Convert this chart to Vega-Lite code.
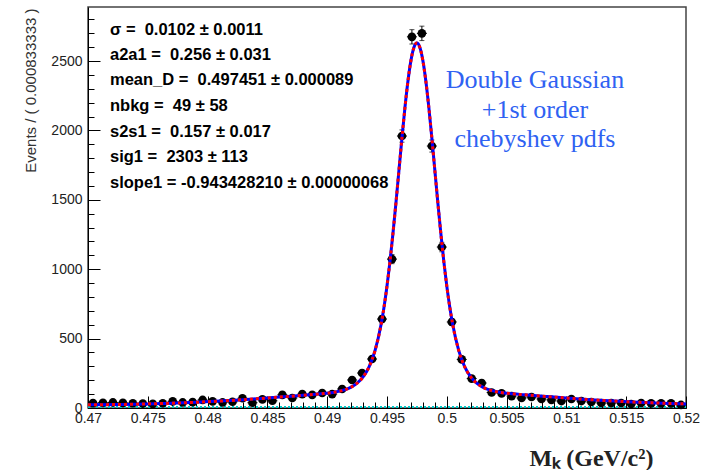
{
  "$schema": "https://vega.github.io/schema/vega-lite/v6.json",
  "width": 598,
  "height": 401,
  "autosize": "none",
  "padding": {"left": 88, "top": 7, "right": 21, "bottom": 62},
  "background": "white",
  "config": {"view": {"stroke": "#444", "strokeWidth": 1.5}, "font": "Liberation Sans"},
  "datasets": {
    "bins": [
      {"x": 0.470417, "n": 35, "lo": 29.1, "hi": 40.9, "xl": 0.470000, "xh": 0.470833},
      {"x": 0.471250, "n": 38, "lo": 31.8, "hi": 44.2, "xl": 0.470833, "xh": 0.471667},
      {"x": 0.472083, "n": 40, "lo": 33.7, "hi": 46.3, "xl": 0.471667, "xh": 0.472500},
      {"x": 0.472917, "n": 37, "lo": 30.9, "hi": 43.1, "xl": 0.472500, "xh": 0.473333},
      {"x": 0.473750, "n": 34, "lo": 28.2, "hi": 39.8, "xl": 0.473333, "xh": 0.474167},
      {"x": 0.474583, "n": 32, "lo": 26.3, "hi": 37.7, "xl": 0.474167, "xh": 0.475000},
      {"x": 0.475417, "n": 30, "lo": 24.5, "hi": 35.5, "xl": 0.475000, "xh": 0.475833},
      {"x": 0.476250, "n": 34, "lo": 28.2, "hi": 39.8, "xl": 0.475833, "xh": 0.476667},
      {"x": 0.477083, "n": 48, "lo": 41.1, "hi": 54.9, "xl": 0.476667, "xh": 0.477500},
      {"x": 0.477917, "n": 40, "lo": 33.7, "hi": 46.3, "xl": 0.477500, "xh": 0.478333},
      {"x": 0.478750, "n": 42, "lo": 35.5, "hi": 48.5, "xl": 0.478333, "xh": 0.479167},
      {"x": 0.479583, "n": 58, "lo": 50.4, "hi": 65.6, "xl": 0.479167, "xh": 0.480000},
      {"x": 0.480417, "n": 48, "lo": 41.1, "hi": 54.9, "xl": 0.480000, "xh": 0.480833},
      {"x": 0.481250, "n": 40, "lo": 33.7, "hi": 46.3, "xl": 0.480833, "xh": 0.481667},
      {"x": 0.482083, "n": 45, "lo": 38.3, "hi": 51.7, "xl": 0.481667, "xh": 0.482500},
      {"x": 0.482917, "n": 70, "lo": 61.6, "hi": 78.4, "xl": 0.482500, "xh": 0.483333},
      {"x": 0.483750, "n": 38, "lo": 31.8, "hi": 44.2, "xl": 0.483333, "xh": 0.484167},
      {"x": 0.484583, "n": 62, "lo": 54.1, "hi": 69.9, "xl": 0.484167, "xh": 0.485000},
      {"x": 0.485417, "n": 52, "lo": 44.8, "hi": 59.2, "xl": 0.485000, "xh": 0.485833},
      {"x": 0.486250, "n": 95, "lo": 85.3, "hi": 104.7, "xl": 0.485833, "xh": 0.486667},
      {"x": 0.487083, "n": 72, "lo": 63.5, "hi": 80.5, "xl": 0.486667, "xh": 0.487500},
      {"x": 0.487917, "n": 100, "lo": 90, "hi": 110, "xl": 0.487500, "xh": 0.488333},
      {"x": 0.488750, "n": 95, "lo": 85.3, "hi": 104.7, "xl": 0.488333, "xh": 0.489167},
      {"x": 0.489583, "n": 108, "lo": 97.6, "hi": 118.4, "xl": 0.489167, "xh": 0.490000},
      {"x": 0.490417, "n": 100, "lo": 90, "hi": 110, "xl": 0.490000, "xh": 0.490833},
      {"x": 0.491250, "n": 137, "lo": 125.3, "hi": 148.7, "xl": 0.490833, "xh": 0.491667},
      {"x": 0.492083, "n": 202, "lo": 187.8, "hi": 216.2, "xl": 0.491667, "xh": 0.492500},
      {"x": 0.492917, "n": 252, "lo": 236.1, "hi": 267.9, "xl": 0.492500, "xh": 0.493333},
      {"x": 0.493750, "n": 353, "lo": 334.2, "hi": 371.8, "xl": 0.493333, "xh": 0.494167},
      {"x": 0.494583, "n": 641, "lo": 615.7, "hi": 666.3, "xl": 0.494167, "xh": 0.495000},
      {"x": 0.495417, "n": 1073, "lo": 1040.2, "hi": 1105.8, "xl": 0.495000, "xh": 0.495833},
      {"x": 0.496250, "n": 1960, "lo": 1915.7, "hi": 2004.3, "xl": 0.495833, "xh": 0.496667},
      {"x": 0.497083, "n": 2675, "lo": 2623.3, "hi": 2726.7, "xl": 0.496667, "xh": 0.497500},
      {"x": 0.497917, "n": 2700, "lo": 2648, "hi": 2752, "xl": 0.497500, "xh": 0.498333},
      {"x": 0.498750, "n": 1888, "lo": 1844.5, "hi": 1931.5, "xl": 0.498333, "xh": 0.499167},
      {"x": 0.499583, "n": 1160, "lo": 1125.9, "hi": 1194.1, "xl": 0.499167, "xh": 0.500000},
      {"x": 0.500417, "n": 620, "lo": 595.1, "hi": 644.9, "xl": 0.500000, "xh": 0.500833},
      {"x": 0.501250, "n": 350, "lo": 331.3, "hi": 368.7, "xl": 0.500833, "xh": 0.501667},
      {"x": 0.502083, "n": 212, "lo": 197.4, "hi": 226.6, "xl": 0.501667, "xh": 0.502500},
      {"x": 0.502917, "n": 180, "lo": 166.6, "hi": 193.4, "xl": 0.502500, "xh": 0.503333},
      {"x": 0.503750, "n": 112, "lo": 101.4, "hi": 122.6, "xl": 0.503333, "xh": 0.504167},
      {"x": 0.504583, "n": 105, "lo": 94.8, "hi": 115.2, "xl": 0.504167, "xh": 0.505000},
      {"x": 0.505417, "n": 86, "lo": 76.7, "hi": 95.3, "xl": 0.505000, "xh": 0.505833},
      {"x": 0.506250, "n": 72, "lo": 63.5, "hi": 80.5, "xl": 0.505833, "xh": 0.506667},
      {"x": 0.507083, "n": 79, "lo": 70.1, "hi": 87.9, "xl": 0.506667, "xh": 0.507500},
      {"x": 0.507917, "n": 65, "lo": 56.9, "hi": 73.1, "xl": 0.507500, "xh": 0.508333},
      {"x": 0.508750, "n": 58, "lo": 50.4, "hi": 65.6, "xl": 0.508333, "xh": 0.509167},
      {"x": 0.509583, "n": 50, "lo": 42.9, "hi": 57.1, "xl": 0.509167, "xh": 0.510000},
      {"x": 0.510417, "n": 65, "lo": 56.9, "hi": 73.1, "xl": 0.510000, "xh": 0.510833},
      {"x": 0.511250, "n": 50, "lo": 42.9, "hi": 57.1, "xl": 0.510833, "xh": 0.511667},
      {"x": 0.512083, "n": 43, "lo": 36.4, "hi": 49.6, "xl": 0.511667, "xh": 0.512500},
      {"x": 0.512917, "n": 36, "lo": 30, "hi": 42, "xl": 0.512500, "xh": 0.513333},
      {"x": 0.513750, "n": 36, "lo": 30, "hi": 42, "xl": 0.513333, "xh": 0.514167},
      {"x": 0.514583, "n": 36, "lo": 30, "hi": 42, "xl": 0.514167, "xh": 0.515000},
      {"x": 0.515417, "n": 29, "lo": 23.6, "hi": 34.4, "xl": 0.515000, "xh": 0.515833},
      {"x": 0.516250, "n": 36, "lo": 30, "hi": 42, "xl": 0.515833, "xh": 0.516667},
      {"x": 0.517083, "n": 33, "lo": 27.3, "hi": 38.7, "xl": 0.516667, "xh": 0.517500},
      {"x": 0.517917, "n": 33, "lo": 27.3, "hi": 38.7, "xl": 0.517500, "xh": 0.518333},
      {"x": 0.518750, "n": 33, "lo": 27.3, "hi": 38.7, "xl": 0.518333, "xh": 0.519167},
      {"x": 0.519583, "n": 22, "lo": 17.3, "hi": 26.7, "xl": 0.519167, "xh": 0.520000}
    ],
    "curve": [
      {"x": 0.4700, "f": 22.9}, {"x": 0.4730, "f": 26.1}, {"x": 0.4750, "f": 29.7}, {"x": 0.4770, "f": 34.6},
      {"x": 0.4790, "f": 41.2}, {"x": 0.4810, "f": 49.7}, {"x": 0.4830, "f": 60.1}, {"x": 0.4850, "f": 72.0},
      {"x": 0.4870, "f": 85.0}, {"x": 0.4885, "f": 94.8}, {"x": 0.4895, "f": 102.1}, {"x": 0.4905, "f": 112.2},
      {"x": 0.4915, "f": 131.8}, {"x": 0.4920, "f": 150.0}, {"x": 0.4925, "f": 178.6}, {"x": 0.4930, "f": 223.6},
      {"x": 0.4935, "f": 296.2}, {"x": 0.4940, "f": 413.6}, {"x": 0.4945, "f": 599.6}, {"x": 0.49475, "f": 726.5},
      {"x": 0.4950, "f": 878.8}, {"x": 0.49525, "f": 1057.2}, {"x": 0.4955, "f": 1259.3}, {"x": 0.49575, "f": 1480.7},
      {"x": 0.4960, "f": 1713.4}, {"x": 0.49625, "f": 1946.0}, {"x": 0.4965, "f": 2164.7}, {"x": 0.49675, "f": 2355.2},
      {"x": 0.4970, "f": 2503.5}, {"x": 0.49725, "f": 2597.7}, {"x": 0.4975, "f": 2630.0}, {"x": 0.49775, "f": 2597.7},
      {"x": 0.4980, "f": 2503.5}, {"x": 0.49825, "f": 2355.2}, {"x": 0.4985, "f": 2164.7}, {"x": 0.49875, "f": 1946.0},
      {"x": 0.4990, "f": 1713.4}, {"x": 0.49925, "f": 1480.7}, {"x": 0.4995, "f": 1259.3}, {"x": 0.49975, "f": 1057.2},
      {"x": 0.5000, "f": 878.8}, {"x": 0.50025, "f": 726.5}, {"x": 0.5005, "f": 599.6}, {"x": 0.5010, "f": 413.6},
      {"x": 0.5015, "f": 296.2}, {"x": 0.5020, "f": 223.6}, {"x": 0.5025, "f": 178.6}, {"x": 0.5030, "f": 150.0},
      {"x": 0.5035, "f": 131.8}, {"x": 0.5045, "f": 112.2}, {"x": 0.5055, "f": 102.1}, {"x": 0.5065, "f": 94.8},
      {"x": 0.5080, "f": 85.0}, {"x": 0.5100, "f": 72.0}, {"x": 0.5120, "f": 60.1}, {"x": 0.5140, "f": 49.7},
      {"x": 0.5160, "f": 41.2}, {"x": 0.5180, "f": 34.6}, {"x": 0.5200, "f": 29.7}
    ],
    "bkg": [{"x": 0.47, "f": 8}, {"x": 0.52, "f": 8}],
    "stats": [
      {"x": 0.47184, "y": 2724, "label": "σ = \u00a00.0102 ± 0.0011"},
      {"x": 0.47184, "y": 2544, "label": "a2a1 = \u00a00.256 ± 0.031"},
      {"x": 0.47184, "y": 2364, "label": "mean_D = \u00a00.497451 ± 0.000089"},
      {"x": 0.47184, "y": 2177, "label": "nbkg = \u00a049 ± 58"},
      {"x": 0.47184, "y": 1989, "label": "s2s1 = \u00a00.157 ± 0.017"},
      {"x": 0.47184, "y": 1809, "label": "sig1 = \u00a02303 ± 113"},
      {"x": 0.47184, "y": 1622, "label": "slope1 = -0.943428210 ± 0.00000068"}
    ],
    "note": [
      {"x": 0.50737, "y": 2364, "label": "Double Gaussian"},
      {"x": 0.50737, "y": 2148, "label": "+1st order"},
      {"x": 0.50737, "y": 1939, "label": "chebyshev pdfs"}
    ]
  },
  "resolve": {"axis": {"x": "independent", "y": "independent"}},
  "layer": [
    {
      "data": {"name": "bkg"},
      "mark": {"type": "line", "color": "#00c8c8", "strokeWidth": 2, "strokeDash": [2, 2]},
      "encoding": {
        "x": {"field": "x", "type": "quantitative",
          "scale": {"domain": [0.47, 0.52], "nice": false, "zero": false},
          "axis": {"orient": "bottom", "values": [0.47, 0.475, 0.48, 0.485, 0.49, 0.495, 0.5, 0.505, 0.51, 0.515, 0.52],
            "format": "~g", "ticks": false, "grid": false, "domain": true, "domainColor": "#000", "domainWidth": 1,
            "labelFont": "Liberation Sans", "labelFontSize": 14, "labelColor": "#222", "labelPadding": 3,
            "labelFlush": false, "labelOverlap": false,
            "title": "Mₖ (GeV/c²)", "titleFont": "Liberation Serif", "titleFontSize": 24, "titleFontWeight": "bold",
            "titleColor": "#222", "titleX": 503, "titleY": 50, "titleAlign": "center", "titleBaseline": "middle"}},
        "y": {"field": "f", "type": "quantitative",
          "scale": {"domain": [0, 2890], "nice": false, "zero": false},
          "axis": {"orient": "left", "values": [0, 500, 1000, 1500, 2000, 2500], "format": "d", "ticks": false, "grid": false,
            "domain": true, "domainColor": "#000", "domainWidth": 1,
            "labelFont": "Liberation Sans", "labelFontSize": 14, "labelColor": "#222", "labelPadding": 6,
            "labelFlush": false, "labelOverlap": false,
            "title": "Events / ( 0.000833333 )", "titleFont": "Liberation Sans", "titleFontSize": 15,
            "titleFontWeight": "normal", "titleColor": "#333", "titleX": -58, "titleY": 1, "titleAngle": -90,
            "titleAlign": "right", "titleBaseline": "middle"}}
      }
    },
    {
      "data": {"name": "bins"},
      "mark": {"type": "rule", "color": "#000", "strokeWidth": 1},
      "encoding": {
        "x": {"field": "x", "type": "quantitative",
          "axis": {"orient": "bottom", "values": [0.47, 0.475, 0.48, 0.485, 0.49, 0.495, 0.5, 0.505, 0.51, 0.515, 0.52],
            "labels": false, "domain": false, "grid": false, "ticks": true, "tickSize": -12, "tickColor": "#000",
            "tickWidth": 1, "title": null}},
        "y": {"field": "lo", "type": "quantitative",
          "axis": {"orient": "left", "values": [0, 500, 1000, 1500, 2000, 2500], "labels": false, "domain": false,
            "grid": false, "ticks": true, "tickSize": -12, "tickColor": "#000", "tickWidth": 1, "title": null}},
        "y2": {"field": "hi"}
      }
    },
    {
      "data": {"name": "bins"},
      "mark": {"type": "rule", "color": "#000", "strokeWidth": 1},
      "encoding": {
        "x": {"field": "xl", "type": "quantitative",
          "axis": {"orient": "bottom",
            "values": [0.47, 0.471, 0.472, 0.473, 0.474, 0.475, 0.476, 0.477, 0.478, 0.479, 0.48, 0.481, 0.482, 0.483, 0.484, 0.485, 0.486, 0.487, 0.488, 0.489, 0.49, 0.491, 0.492, 0.493, 0.494, 0.495, 0.496, 0.497, 0.498, 0.499, 0.5, 0.501, 0.502, 0.503, 0.504, 0.505, 0.506, 0.507, 0.508, 0.509, 0.51, 0.511, 0.512, 0.513, 0.514, 0.515, 0.516, 0.517, 0.518, 0.519, 0.52],
            "labels": false, "domain": false, "grid": false, "ticks": true, "tickSize": -6, "tickColor": "#000",
            "tickWidth": 1, "title": null}},
        "x2": {"field": "xh"},
        "y": {"field": "n", "type": "quantitative",
          "axis": {"orient": "left",
            "values": [0, 100, 200, 300, 400, 500, 600, 700, 800, 900, 1000, 1100, 1200, 1300, 1400, 1500, 1600, 1700, 1800, 1900, 2000, 2100, 2200, 2300, 2400, 2500, 2600, 2700, 2800],
            "labels": false, "domain": false, "grid": false, "ticks": true, "tickSize": -6, "tickColor": "#000",
            "tickWidth": 1, "title": null}}
      }
    },
    {
      "data": {"name": "bins"},
      "mark": {"type": "tick", "orient": "horizontal", "color": "#000", "size": 5, "thickness": 1},
      "encoding": {
        "x": {"field": "x", "type": "quantitative", "axis": null},
        "y": {"field": "hi", "type": "quantitative", "axis": null}
      }
    },
    {
      "data": {"name": "bins"},
      "mark": {"type": "tick", "orient": "horizontal", "color": "#000", "size": 5, "thickness": 1},
      "encoding": {
        "x": {"field": "x", "type": "quantitative", "axis": null},
        "y": {"field": "lo", "type": "quantitative", "axis": null}
      }
    },
    {
      "data": {"name": "bins"},
      "mark": {"type": "point", "shape": "circle", "filled": true, "color": "#000", "size": 75, "opacity": 1},
      "encoding": {
        "x": {"field": "x", "type": "quantitative", "axis": null},
        "y": {"field": "n", "type": "quantitative", "axis": null}
      }
    },
    {
      "data": {"name": "curve"},
      "mark": {"type": "line", "color": "#0000ff", "strokeWidth": 3, "interpolate": "monotone"},
      "encoding": {
        "x": {"field": "x", "type": "quantitative", "axis": null},
        "y": {"field": "f", "type": "quantitative", "axis": null}
      }
    },
    {
      "data": {"name": "curve"},
      "mark": {"type": "line", "color": "#ff0000", "strokeWidth": 3, "strokeDash": [3, 3], "interpolate": "monotone"},
      "encoding": {
        "x": {"field": "x", "type": "quantitative", "axis": null},
        "y": {"field": "f", "type": "quantitative", "axis": null}
      }
    },
    {
      "data": {"name": "stats"},
      "mark": {"type": "text", "align": "left", "baseline": "middle", "font": "Liberation Sans", "fontSize": 16.5,
        "fontWeight": "bold", "color": "#000"},
      "encoding": {
        "x": {"field": "x", "type": "quantitative", "axis": null},
        "y": {"field": "y", "type": "quantitative", "axis": null},
        "text": {"field": "label"}
      }
    },
    {
      "data": {"name": "note"},
      "mark": {"type": "text", "align": "center", "baseline": "middle", "font": "Liberation Serif", "fontSize": 26,
        "color": "#2f62f2"},
      "encoding": {
        "x": {"field": "x", "type": "quantitative", "axis": null},
        "y": {"field": "y", "type": "quantitative", "axis": null},
        "text": {"field": "label"}
      }
    }
  ]
}
